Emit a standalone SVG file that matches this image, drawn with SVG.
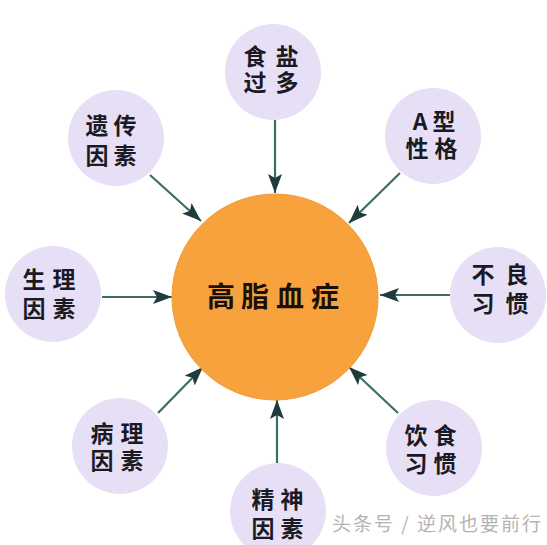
<svg xmlns="http://www.w3.org/2000/svg" width="547" height="545" viewBox="0 0 547 545">
<defs>
<marker id="ah" markerUnits="userSpaceOnUse" markerWidth="20" markerHeight="16" refX="19" refY="7" orient="auto">
<path d="M0,0 L19,7 L0,14 L4,7 Z" fill="#1f3b3d"/>
</marker>
<style>
.sat{fill:#e7dff6;}
.core{fill:#f8a23e;stroke:#f39a36;stroke-width:1;}
.lbl{font-family:"Noto Sans CJK SC","Noto Sans",sans-serif;font-size:23px;font-weight:bold;fill:#1a1a24;text-anchor:middle;}
.big{font-family:"Noto Sans CJK SC","Noto Sans",sans-serif;font-size:28px;font-weight:bold;fill:#1a1008;text-anchor:middle;}
.wm{font-family:"Noto Sans CJK SC","Noto Sans",sans-serif;font-size:19px;letter-spacing:2px;fill:#b4b4b4;}
.conn line{stroke:#3b6d67;stroke-width:2.2;marker-end:url(#ah);}
</style>
</defs>
<rect width="547" height="545" fill="#ffffff"/>
<g id="connectors" class="conn">
<line x1="275" y1="120" x2="275" y2="193"/>
<line x1="400" y1="173" x2="349" y2="223"/>
<line x1="450" y1="295" x2="380" y2="295"/>
<line x1="398" y1="413" x2="349" y2="367"/>
<line x1="277" y1="463" x2="277" y2="400"/>
<line x1="158" y1="413" x2="203" y2="367"/>
<line x1="102" y1="297" x2="172" y2="297"/>
<line x1="150" y1="175" x2="201" y2="221"/>
</g>
<g id="center">
<circle class="core" cx="275" cy="297" r="103"/>
<text class="big" x="221 255 290 325" y="307">高脂血症</text>
</g>
<g id="n-salt">
<circle class="sat" cx="273" cy="72" r="48"/>
<text class="lbl" x="255 287" y="65">食盐</text>
<text class="lbl" x="255 287" y="91">过多</text>
</g>
<g id="n-typeA">
<circle class="sat" cx="433" cy="136" r="48"/>
<text class="lbl" x="420 444" y="130">A型</text>
<text class="lbl" x="417 446" y="157">性格</text>
</g>
<g id="n-habit">
<circle class="sat" cx="498" cy="295" r="48"/>
<text class="lbl" x="483 517" y="283">不良</text>
<text class="lbl" x="483 517" y="312">习惯</text>
</g>
<g id="n-diet">
<circle class="sat" cx="434" cy="448" r="48"/>
<text class="lbl" x="416 445" y="444">饮食</text>
<text class="lbl" x="416 445" y="472">习惯</text>
</g>
<g id="n-mental">
<circle class="sat" cx="278" cy="511" r="48"/>
<text class="lbl" x="263 292" y="508">精神</text>
<text class="lbl" x="263 292" y="537">因素</text>
</g>
<g id="n-patho">
<circle class="sat" cx="120" cy="446" r="48"/>
<text class="lbl" x="102 132" y="442">病理</text>
<text class="lbl" x="102 132" y="469">因素</text>
</g>
<g id="n-physio">
<circle class="sat" cx="53" cy="294" r="48"/>
<text class="lbl" x="34 64" y="288">生理</text>
<text class="lbl" x="34 64" y="317">因素</text>
</g>
<g id="n-gene">
<circle class="sat" cx="116" cy="138" r="48"/>
<text class="lbl" x="97 125" y="134">遗传</text>
<text class="lbl" x="97 125" y="164">因素</text>
</g>
<text class="wm" x="332" y="531">头条号 / 逆风也要前行</text>
</svg>
